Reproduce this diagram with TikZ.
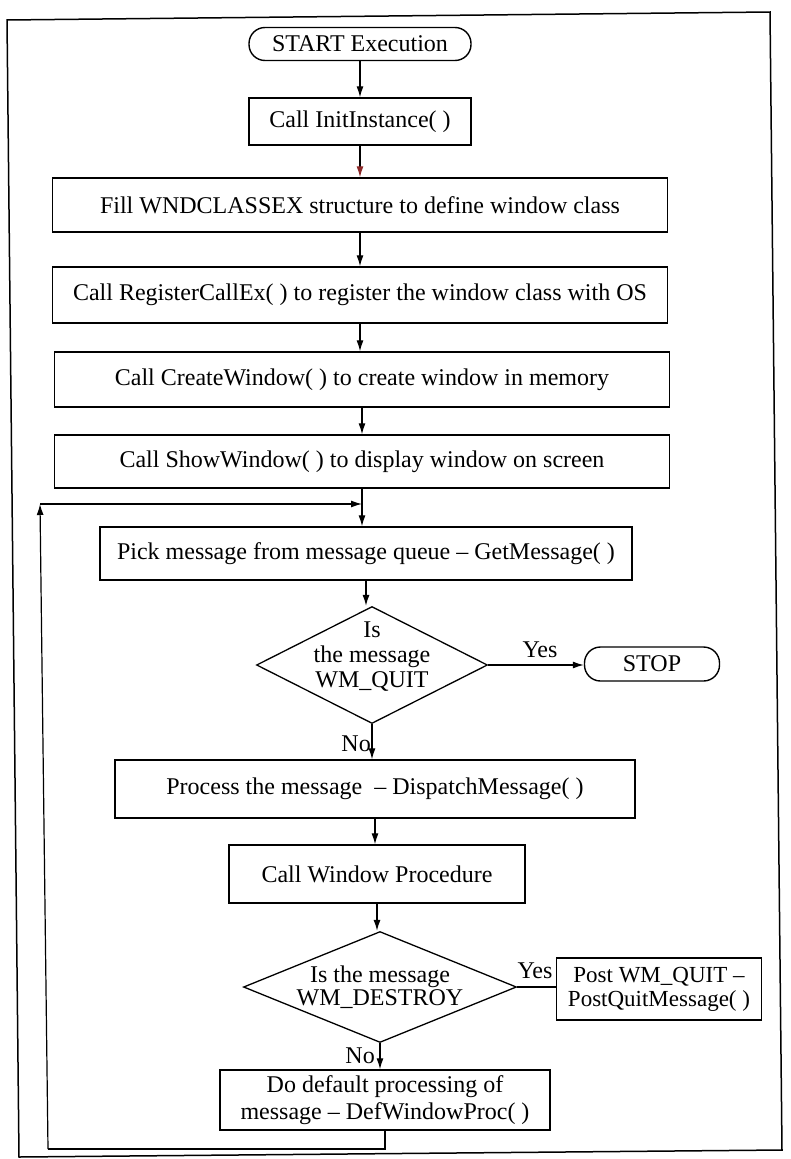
\documentclass[tikz,border=0pt]{standalone}
\usepackage{fontspec}
\setmainfont{Liberation Serif}
\usetikzlibrary{shapes.geometric,arrows.meta}
\definecolor{tipred}{RGB}{140,40,40}
\begin{document}
\begin{tikzpicture}[x=1pt,y=-1pt,
  every node/.style={font=\fontsize{24}{25}\selectfont},
  box/.style={draw, line width=1.4pt, inner sep=0pt, align=center},
  term/.style={box, rounded corners=16pt},
  dec/.style={draw, diamond, line width=1.3pt, inner sep=0pt},
  arr/.style={line width=1.2pt, -{Latex[length=11pt,width=7pt]}},
  conn/.style={line width=1.2pt},
  lbl/.style={inner sep=0pt, align=center}]
\useasboundingbox (0,0) rectangle (790,1159);

% outer frame
\draw[line width=1.5pt] (7,20) -- (770,12) -- (782,1150) -- (19,1157) -- cycle;

% main column
\node[term, minimum width=222pt, minimum height=33pt] (start) at (360,44) {START Execution};
\node[box, minimum width=222pt, minimum height=47pt] (init) at (360,121.5) {Call InitInstance( )};
\node[box, minimum width=615pt, minimum height=54pt] (fill) at (360,205) {Fill WNDCLASSEX structure to define window class};
\node[box, minimum width=615pt, minimum height=56pt] (reg) at (360,295) {Call RegisterCallEx( ) to register the window class with OS};
\node[box, minimum width=615pt, minimum height=55pt] (create) at (362,379.5) {Call CreateWindow( ) to create window in memory};
\node[box, minimum width=615pt, minimum height=53pt] (show) at (362,461.5) {Call ShowWindow( ) to display window on screen};
\node[box, minimum width=532pt, minimum height=53pt] (pick) at (366,553.5) {Pick message from message queue -- GetMessage( )};

\node[dec, minimum width=231pt, minimum height=117pt] (d1) at (372,665) {};
\node[lbl, font=\fontsize{24}{25}\selectfont] (d1t) at (372,657) {Is\\the message\\WM\_QUIT};
\node[term, minimum width=135pt, minimum height=34pt] (stop) at (652,664) {STOP};

\node[box, minimum width=520pt, minimum height=58pt] (proc) at (375,789) {Process the message\ \ -- DispatchMessage( )};
\node[box, minimum width=296pt, minimum height=58pt] (cwp) at (377,874) {Call Window Procedure};

\node[dec, minimum width=273pt, minimum height=111pt] (d2) at (380,987) {};
\node[lbl, font=\fontsize{24}{23}\selectfont] (d2t) at (380,987) {Is the message\\WM\_DESTROY};
\node[box, minimum width=205pt, minimum height=62pt, font=\fontsize{23}{24}\selectfont] (post) at (659,989) {Post WM\_QUIT --\\PostQuitMessage( )};

\node[box, minimum width=330pt, minimum height=60pt, font=\fontsize{24}{27}\selectfont] (def) at (385,1100) {Do default processing of\\message -- DefWindowProc( )};

% branch labels
\node[lbl] (yes1) at (540,650) {Yes};
\node[lbl, anchor=east] (no1) at (371,744) {No};
\node[lbl] (yes2) at (535,971) {Yes};
\node[lbl, anchor=east] (no2) at (375,1056) {No};

% connectors down the column
\draw[arr] (start.south) -- (start.south |- init.north);
\draw[line width=1.2pt, -{Latex[length=11pt,width=7pt,color=tipred]}] (init.south) -- (init.south |- fill.north);
\draw[arr] (fill.south) -- (fill.south |- reg.north);
\draw[arr] (reg.south) -- (reg.south |- create.north);
\draw[arr] (create.south) -- (create.south |- show.north);
\draw[arr] (show.south) -- (show.south |- pick.north);
\draw[arr] (pick.south) -- (pick.south |- d1.north);
\draw[arr] (d1.south) -- (d1.south |- proc.north);
\draw[arr] (proc.south) -- (proc.south |- cwp.north);
\draw[arr] (cwp.south) -- (cwp.south |- d2.north);
\draw[arr] (d2.south) -- (d2.south |- def.north);

% side branches
\draw[arr] (d1.east) -- (d1.east -| stop.west);
\draw[conn] (d2.east) -- (d2.east -| post.west);

% loop back to the message queue
\coordinate (lpbr) at (385,1149);
\coordinate (lpbl) at (48,1149);
\coordinate (lptl) at (40,504);
\coordinate (lpjn) at (362,504);
\draw[conn] (def.south) -- (lpbr) -- (lpbl);
\draw[arr] (lpbl) -- (lptl);
\draw[arr] (lptl) -- (lpjn);
\end{tikzpicture}
\end{document}
